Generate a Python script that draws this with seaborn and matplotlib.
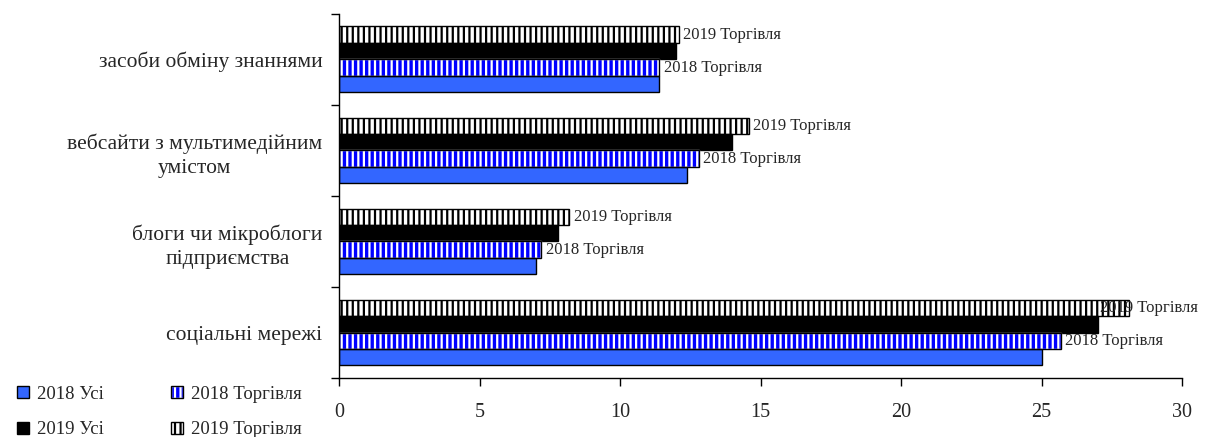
import numpy as np
import pandas as pd
import seaborn as sns
from matplotlib import pyplot as plt
from matplotlib.patches import Patch, Rectangle
from matplotlib.legend_handler import HandlerTuple

# data
categories = ['засоби обміну знаннями',
              'вебсайти з мультимедійним\nумістом',
              'блоги чи мікроблоги\nпідприємства',
              'соціальні мережі']
series = ['2019 Торгівля', '2019 Усі', '2018 Торгівля', '2018 Усі']
trade_2019 = [12.1, 14.6, 8.2, 28.1]
all_2019 = [12.0, 14.0, 7.8, 27.0]
trade_2018 = [11.4, 12.8, 7.2, 25.7]
all_2018 = [11.4, 12.4, 7.0, 25.0]
xticks = [0, 5, 10, 15, 20, 25, 30]

df = pd.DataFrame({
    'category': categories * 4,
    'series': np.repeat(series, len(categories)),
    'value': trade_2019 + all_2019 + trade_2018 + all_2018,
})

sns.set_style('white')
plt.rcParams['font.family'] = ['Liberation Serif', 'DejaVu Serif']
plt.rcParams['hatch.linewidth'] = 1.6

BLUE = '#3366FF'
HATCH = '|||'
fig = plt.figure(figsize=(12.1, 4.37), dpi=100)
ax = fig.add_axes([0.2802, 0.135, 0.6967, 0.833])

sns.barplot(data=df, y='category', x='value', hue='series',
            hue_order=series, order=categories, orient='h',
            width=0.725, legend=False, errorbar=None, ax=ax)

styles = {
    '2019 Торгівля': dict(facecolor='white', edgecolor='black', hatch=HATCH),
    '2019 Усі': dict(facecolor='black', edgecolor='black', hatch=None),
    '2018 Торгівля': dict(facecolor='#0000FF', edgecolor='white', hatch=HATCH),
    '2018 Усі': dict(facecolor=BLUE, edgecolor='black', hatch=None),
}

for name, cont in zip(series, ax.containers):
    st = styles[name]
    for bar in cont:
        bar.set_facecolor(st['facecolor'])
        bar.set_edgecolor(st['edgecolor'])
        bar.set_linewidth(1.0)
        if st['hatch']:
            bar.set_hatch(st['hatch'])
        if name == '2018 Торгівля':
            # white stripes need a separate black outline
            ax.add_patch(Rectangle((bar.get_x(), bar.get_y()), bar.get_width(),
                                   bar.get_height(), fill=False,
                                   edgecolor='black', linewidth=1.0))

# value labels next to the hatched bars
labels = []
for name, cont in zip(series, ax.containers):
    if 'Торгівля' not in name:
        continue
    for bar in cont:
        t = ax.annotate(name, xy=(bar.get_width(), bar.get_y() + bar.get_height() / 2),
                        xytext=(3, 0), textcoords='offset points',
                        ha='left', va='center', fontsize=12, annotation_clip=False,
                        zorder=5)
        labels.append(t)

ax.set_xlim(0, 30)
ax.set_xticks(xticks)
ax.set_xticklabels([str(v) for v in xticks], fontsize=14.5)
ax.set_ylim(len(categories) - 0.5, -0.5)
ax.set_xlabel('')
ax.set_ylabel('')

ax.set_yticks(np.arange(len(categories)))
ax.set_yticklabels(categories, fontsize=15.5)
for lbl in ax.get_yticklabels():
    lbl.set_multialignment('center')
    lbl.set_linespacing(1.4)
ax.set_yticks(np.arange(len(categories) + 1) - 0.5, minor=True)
ax.tick_params(axis='y', which='major', length=0, pad=12)
ax.tick_params(axis='y', which='minor', length=6, direction='out', width=1, color='black', left=True)
ax.tick_params(axis='x', which='major', length=6, direction='out', width=1, color='black', pad=12, bottom=True)

sns.despine(ax=ax)
for s in ['left', 'bottom']:
    ax.spines[s].set_color('black')
    ax.spines[s].set_linewidth(1.0)

# legend
h_all18 = Patch(facecolor=BLUE, edgecolor='black')
h_trade18 = (Patch(facecolor='#0000FF', edgecolor='white', hatch=HATCH),
             Patch(facecolor='none', edgecolor='black'))
h_all19 = Patch(facecolor='black', edgecolor='black')
h_trade19 = Patch(facecolor='white', edgecolor='black', hatch=HATCH)
fig.legend([h_all18, h_all19, h_trade18, h_trade19],
           ['2018 Усі', '2019 Усі', '2018 Торгівля', '2019 Торгівля'],
           handler_map={tuple: HandlerTuple(ndivide=1)},
           ncol=2, loc='lower left', bbox_to_anchor=(0.0, -0.042),
           frameon=False, fontsize=13.5, handlelength=0.65, handleheight=0.65,
           handletextpad=0.4, columnspacing=3.6, labelspacing=1.0)

# keep labels inside the figure, as the original does
fig.canvas.draw()
renderer = fig.canvas.get_renderer()
fig_w = fig.bbox.width
for t in labels:
    bb = t.get_window_extent(renderer)
    if bb.x1 > fig_w - 10:
        dx = (bb.x1 - (fig_w - 12)) / fig.dpi * 72
        x0, y0 = t.xyann
        t.xyann = (x0 - dx, y0)

fig.savefig('out.png', dpi=100)
